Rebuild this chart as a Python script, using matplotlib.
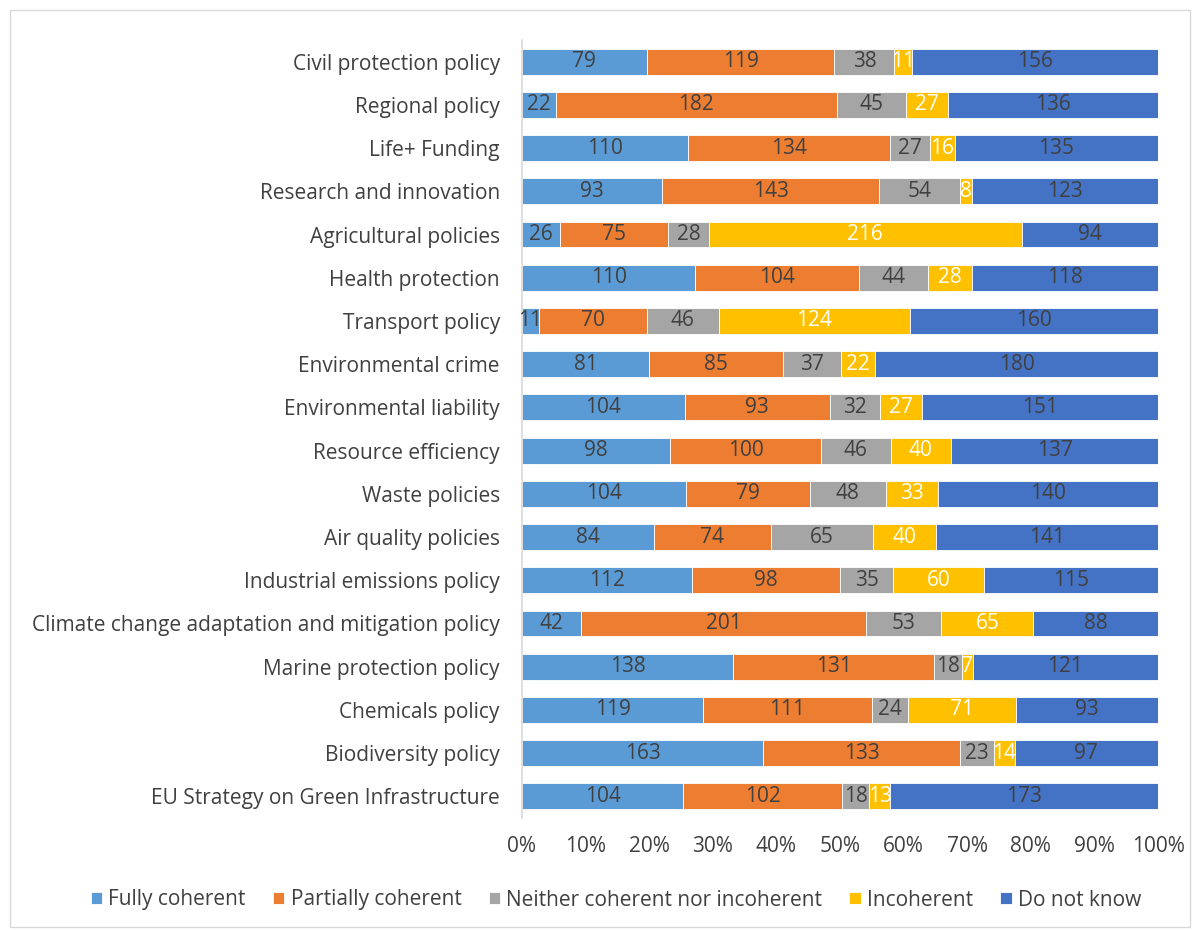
import matplotlib
matplotlib.use("Agg")
import matplotlib.pyplot as plt
import numpy as np
from matplotlib.patches import Rectangle

plt.rcParams['font.family'] = ['Open Sans', 'DejaVu Sans']

categories = [
    "Civil protection policy", "Regional policy", "Life+ Funding",
    "Research and innovation", "Agricultural policies", "Health protection",
    "Transport policy", "Environmental crime", "Environmental liability",
    "Resource efficiency", "Waste policies", "Air quality policies",
    "Industrial emissions policy", "Climate change adaptation and mitigation policy",
    "Marine protection policy", "Chemicals policy", "Biodiversity policy",
    "EU Strategy on Green Infrastructure",
]
fully = [79, 22, 110, 93, 26, 110, 11, 81, 104, 98, 104, 84, 112, 42, 138, 119, 163, 104]
partially = [119, 182, 134, 143, 75, 104, 70, 85, 93, 100, 79, 74, 98, 201, 131, 111, 133, 102]
neither = [38, 45, 27, 54, 28, 44, 46, 37, 32, 46, 48, 65, 35, 53, 18, 24, 23, 18]
incoherent = [11, 27, 16, 8, 216, 28, 124, 22, 27, 40, 33, 40, 60, 65, 7, 71, 14, 13]
dont_know = [156, 136, 135, 123, 94, 118, 160, 180, 151, 137, 140, 141, 115, 88, 121, 93, 97, 173]

series_names = ["Fully coherent", "Partially coherent", "Neither coherent nor incoherent",
                "Incoherent", "Do not know"]
colors = ["#5B9BD5", "#ED7D31", "#A5A5A5", "#FFC000", "#4472C4"]
label_colors = ["#404040", "#404040", "#404040", "#FFFFFF", "#404040"]
tick_labels = ["0%", "10%", "20%", "30%", "40%", "50%", "60%", "70%", "80%", "90%", "100%"]

data = np.array([fully, partially, neither, incoherent, dont_know], dtype=float)
totals = data.sum(axis=0)
shares = data / totals

FS = 15

fig = plt.figure(figsize=(12, 9.31), dpi=100)
ax = fig.add_axes([522/1200, 1 - 818/931, (1158-522)/1200, (818-40)/931])

y = np.arange(len(categories))
left = np.zeros(len(categories))
for i in range(5):
    ax.barh(y, shares[i], left=left, height=0.6, color=colors[i],
            label=series_names[i], edgecolor="white", linewidth=0.6)
    for j in range(len(categories)):
        ax.text(left[j] + shares[i][j] / 2, y[j], str(int(data[i][j])),
                ha="center", va="center", color=label_colors[i], fontsize=FS)
    left += shares[i]

ax.set_ylim(len(categories) - 0.5, -0.5)
ax.set_xlim(0, 1)
ax.set_yticks(y)
ax.set_yticklabels(categories, fontsize=FS, color="#404040")
ax.set_xticks(np.linspace(0, 1, 11))
ax.set_xticklabels(tick_labels, fontsize=FS, color="#404040")
ax.tick_params(axis="both", length=0)
ax.tick_params(axis="y", pad=16)
ax.tick_params(axis="x", pad=13)
for s in ["top", "right", "bottom"]:
    ax.spines[s].set_visible(False)
ax.spines["left"].set_color("#D9D9D9")
ax.spines["left"].set_linewidth(1.2)

handles, labels = ax.get_legend_handles_labels()
fig.legend(handles, labels, loc="center", bbox_to_anchor=(616/1200, 1 - 900/931),
           ncol=5, frameon=False, fontsize=FS, handlelength=0.55, handleheight=0.55,
           handletextpad=0.3, columnspacing=1.3, labelcolor="#404040")

fig.patches.append(Rectangle((10/1200, 1 - 927/931), 1180/1200, 917/931,
                             transform=fig.transFigure, fill=False,
                             edgecolor="#D9D9D9", linewidth=1))

fig.savefig("out.png", dpi=100)
